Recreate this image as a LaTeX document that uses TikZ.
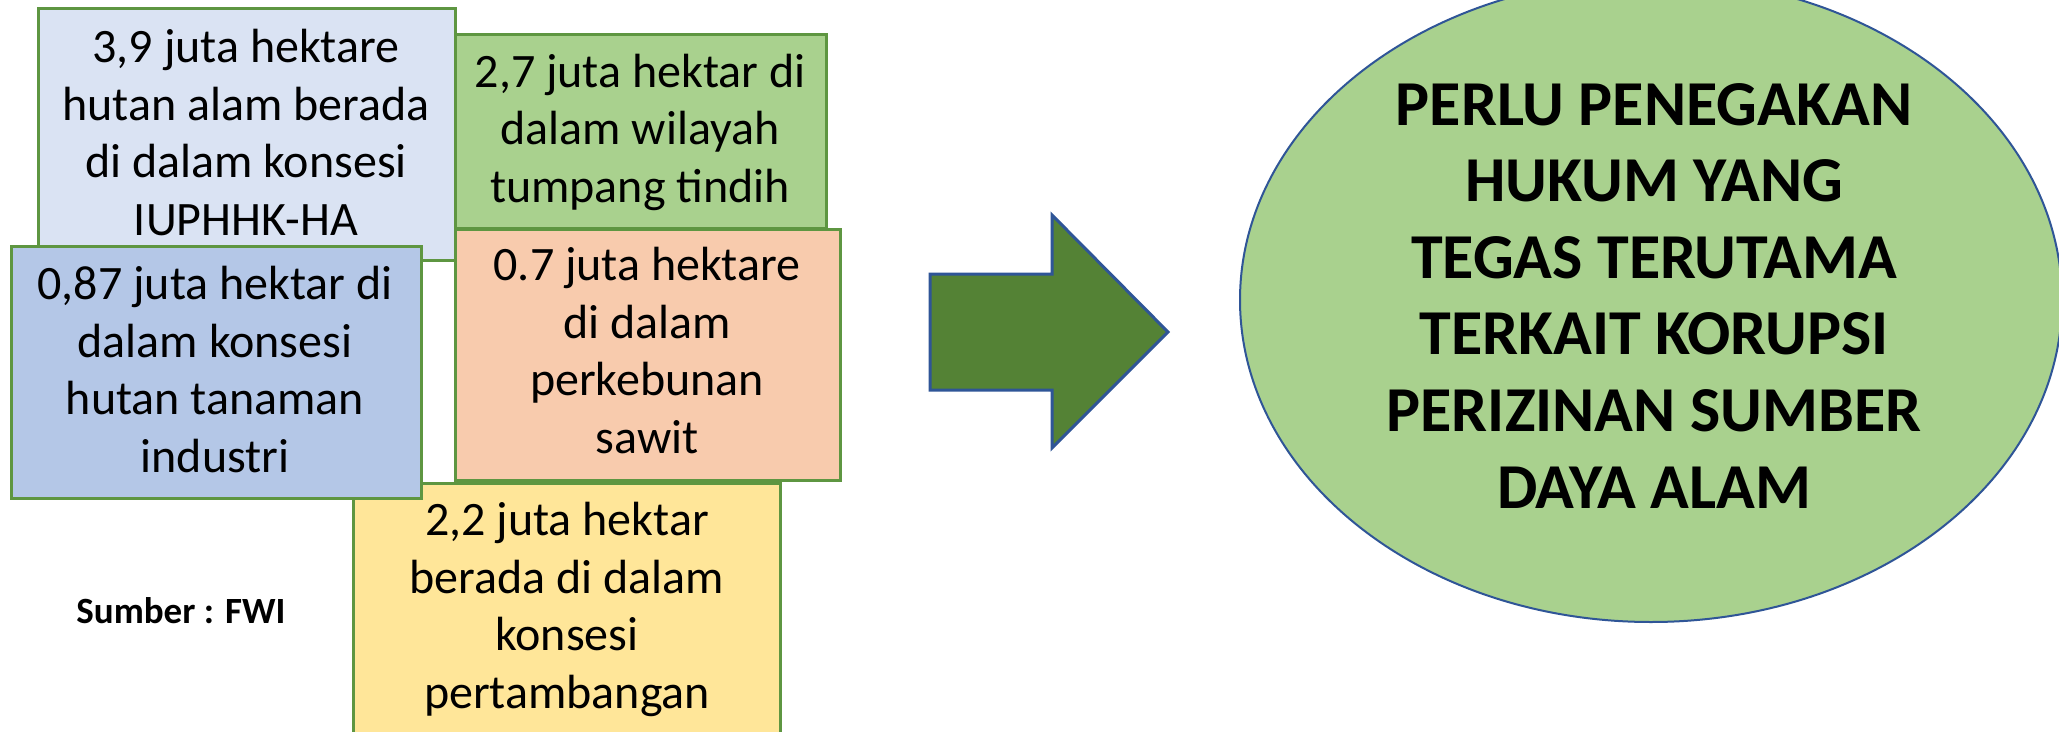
\documentclass[tikz,border=0pt]{standalone}
\usepackage{fontspec}
\setmainfont{Carlito}
\usetikzlibrary{shapes.geometric}
\definecolor{boxline}{HTML}{5E9641}
\definecolor{cone}{HTML}{DAE3F3}
\definecolor{ctwo}{HTML}{A9D18E}
\definecolor{cthree}{HTML}{B4C7E7}
\definecolor{cfour}{HTML}{F8CBAD}
\definecolor{cfive}{HTML}{FFE699}
\definecolor{arrowfill}{HTML}{548235}
\definecolor{blueline}{HTML}{2F5597}
\tikzset{
  box/.style={draw=boxline, line width=2.5pt, rectangle, inner sep=0pt, anchor=north west},
  boxtext/.style={anchor=base, align=center, inner sep=0pt, font=\fontsize{48}{57.5}\selectfont},
  bigtext/.style={anchor=base, align=center, inner sep=0pt, font=\bfseries\fontsize{64}{76.6}\selectfont},
}
\begin{document}
\begin{tikzpicture}[x=1pt, y=-1pt]
\clip (0,0) rectangle (2059,731);
\fill[white] (0,0) rectangle (2059,731);
% boxes
\node[box, fill=cone, minimum width=417pt, minimum height=252pt] (b1) at (37,7) {};
\node[box, fill=ctwo, minimum width=371pt, minimum height=194pt] (b2) at (454,33) {};
\node[box, fill=cfive, minimum width=427pt, minimum height=298pt] (b5) at (352,482) {};
\node[box, fill=cthree, minimum width=410pt, minimum height=252pt] (b3) at (10,245) {};
\node[box, fill=cfour, minimum width=385pt, minimum height=251pt] (b4) at (454,228) {};
% texts (anchor = baseline of the last line)
\node[boxtext] (t1) at (246,235) {3,9 juta hektare\\hutan alam berada\\di dalam konsesi\\IUPHHK-HA};
\node[boxtext] (t2) at (640,202) {2,7 juta hektar di\\dalam wilayah\\tumpang tindih};
\node[boxtext] (t3) at (215,472) {0,87 juta hektar di\\dalam konsesi\\hutan tanaman\\industri};
\node[boxtext] (t4) at (647,453) {0.7 juta hektare\\di dalam\\perkebunan\\sawit};
\node[boxtext] (t5) at (567,708) {2,2 juta hektar\\berada di dalam\\konsesi\\pertambangan};
\node[anchor=base, inner sep=0pt, font=\bfseries\fontsize{37}{44}\selectfont] (src) at (181,623) {Sumber : FWI};
% arrow
\draw[fill=arrowfill, draw=blueline, line width=3pt, line join=miter]
  (930,274) -- (1052,274) -- (1052,215) -- (1168,332) -- (1052,448) -- (1052,390) -- (930,390) -- cycle;
% ellipse
\node[ellipse, draw=blueline, fill=ctwo, line width=2pt, inner sep=0pt,
      minimum width=822pt, minimum height=644pt] (ell) at (1651,300) {};
\node[bigtext] (et) at (1654,508) {PERLU PENEGAKAN\\HUKUM YANG\\TEGAS TERUTAMA\\TERKAIT KORUPSI\\PERIZINAN SUMBER\\DAYA ALAM};
\end{tikzpicture}
\end{document}
